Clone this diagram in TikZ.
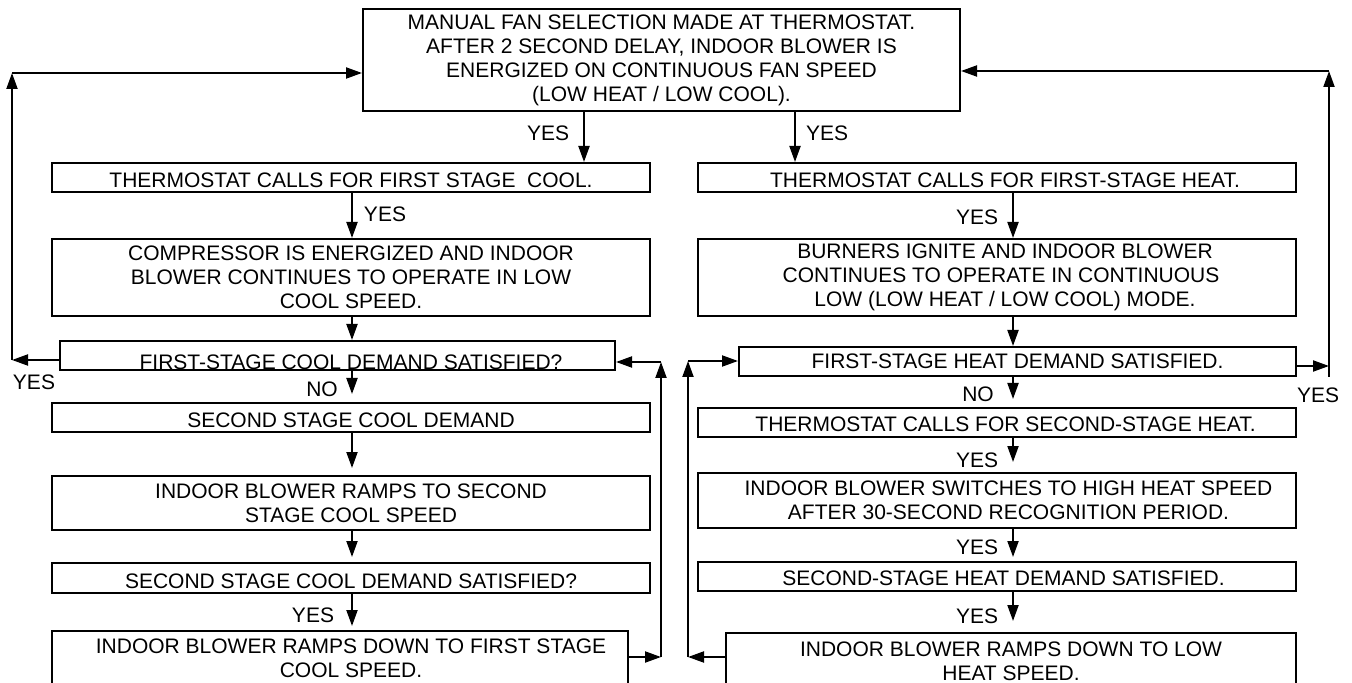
\documentclass[tikz,border=0pt]{standalone}
\usepackage{fontspec}
\setmainfont{Liberation Sans}
\usetikzlibrary{arrows.meta}
\newcommand{\sh}[2]{\hspace*{#1}#2\hspace*{-#1}}

\begin{document}
\begin{tikzpicture}[x=0.5pt, y=-0.5pt, >={Triangle[length=8pt,width=5.5pt]}, line width=1pt,
    font=\fontsize{10.5}{12}\selectfont,
    box/.style={draw, rectangle, inner xsep=3pt, inner ysep=0pt, align=center, minimum width=299pt},
    linebox/.style={box, minimum height=14.5pt, text height=10.5pt, text depth=0pt},
    lbl/.style={inner sep=0pt, text height=7.5pt, text depth=0pt}]
    \useasboundingbox (0,0) rectangle (1352,683);
    \clip (0,0) rectangle (1352,683);
    % caja superior
    \node[box, minimum width=298.5pt, minimum height=51pt] (top) at (661.5,60)
        {MANUAL FAN SELECTION MADE AT THERMOSTAT.\\AFTER 2 SECOND DELAY, INDOOR BLOWER IS\\ENERGIZED ON CONTINUOUS FAN SPEED\\(LOW HEAT / LOW COOL).};
    % columna frio
    \node[linebox] (c1) at (351,177.5) {THERMOSTAT CALLS FOR FIRST STAGE~ COOL.};
    \node[box, minimum height=38.5pt] (c2) at (351,277.5) {COMPRESSOR IS ENERGIZED AND INDOOR\\BLOWER CONTINUES TO OPERATE IN LOW\\COOL SPEED.};
    \node[linebox, minimum width=277.5pt, text height=14.5pt] (c3) at (337.5,355.5) {\sh{6.75pt}{FIRST-STAGE COOL DEMAND SATISFIED?}};
    \node[linebox] (c4) at (351,417.5) {SECOND STAGE COOL DEMAND};
    \node[box, minimum height=27pt] (c5) at (351,503) {INDOOR BLOWER RAMPS TO SECOND\\STAGE COOL SPEED};
    \node[linebox, minimum height=15pt] (c6) at (351,578) {SECOND STAGE COOL DEMAND SATISFIED?};
    \node[box, minimum width=288pt, minimum height=27.5pt] (c7) at (340,658.5) {\sh{5.5pt}{INDOOR BLOWER RAMPS DOWN TO FIRST STAGE}\\\sh{5.5pt}{COOL SPEED.}};
    % columna calor
    \node[linebox] (h1) at (997,177.5) {\sh{4pt}{THERMOSTAT CALLS FOR FIRST-STAGE HEAT.}};
    \node[box, minimum height=38.5pt] (h2) at (997,277.5) {\sh{4pt}{BURNERS IGNITE AND INDOOR BLOWER}\\\sh{4pt}{CONTINUES TO OPERATE IN CONTINUOUS}\\\sh{4pt}{LOW (LOW HEAT / LOW COOL) MODE.}};
    \node[linebox, minimum width=278.5pt, text height=7.5pt] (h3) at (1017.5,361.5) {FIRST-STAGE HEAT DEMAND SATISFIED.};
    \node[linebox, text height=9pt] (h4) at (997,422.5) {\sh{4.25pt}{THERMOSTAT CALLS FOR SECOND-STAGE HEAT.}};
    \node[box, minimum height=27.5pt] (h5) at (997,500.5) {\sh{5.75pt}{INDOOR BLOWER SWITCHES TO HIGH HEAT SPEED}\\\sh{5.75pt}{AFTER 30-SECOND RECOGNITION PERIOD.}};
    \node[linebox, text height=8.5pt] (h6) at (997,576.5) {\sh{3.25pt}{SECOND-STAGE HEAT DEMAND SATISFIED.}};
    \node[box, minimum width=285pt, minimum height=28pt] (h7) at (1011,661) {INDOOR BLOWER RAMPS DOWN TO LOW\\HEAT SPEED.};
    % ejes de las flechas
    \coordinate (ta) at (584,0);
    \coordinate (tb) at (795,0);
    \coordinate (lx) at (352,0);
    \coordinate (rx) at (1013,0);
    % flechas hacia abajo
    \draw[->] (top.south -| ta) -- (c1.north -| ta);
    \draw[->] (top.south -| tb) -- (h1.north -| tb);
    \draw[->] (c1.south -| lx) -- (c2.north -| lx);
    \draw[->] (c2.south -| lx) -- (c3.north -| lx);
    \draw[->, shorten >=4pt] (c3.south -| lx) -- (c4.north -| lx);
    \draw[->, shorten >=3.5pt] (c4.south -| lx) -- (c5.north -| lx);
    \draw[->, shorten >=2.5pt] (c5.south -| lx) -- (c6.north -| lx);
    \draw[->, shorten >=2pt] (c6.south -| lx) -- (c7.north -| lx);
    \draw[->] (h1.south -| rx) -- (h2.north -| rx);
    \draw[->] (h2.south -| rx) -- (h3.north -| rx);
    \draw[->, shorten >=4pt] (h3.south -| rx) -- (h4.north -| rx);
    \draw[->, shorten >=5pt] (h4.south -| rx) -- (h5.north -| rx);
    \draw[->, shorten >=2pt] (h5.south -| rx) -- (h6.north -| rx);
    \draw[->, shorten >=5.5pt] (h6.south -| rx) -- (h7.north -| rx);
    % etiquetas
    \node[lbl] (ya) at (548,133.5) {YES};
    \node[lbl] (yb) at (827,133.5) {YES};
    \node[lbl] (yc1) at (385,214.5) {YES};
    \node[lbl] (yh1) at (977,217) {YES};
    \node[lbl] (nc3) at (322,388.5) {NO};
    \node[lbl] (nh3) at (978,393.5) {NO};
    \node[lbl] (yh4) at (977,460) {YES};
    \node[lbl] (yh5) at (977,547) {YES};
    \node[lbl] (yc6) at (313,614.5) {YES};
    \node[lbl] (yh6) at (977,615.5) {YES};
    \node[lbl] (yl) at (34,382.5) {YES};
    \node[lbl] (yr) at (1318,395) {YES};
    % retorno izquierdo
    \coordinate (lb) at (12,360);
    \coordinate (lt) at (12,73);
    \draw[->] (c3.west |- lb) -- (lb);
    \draw[->] (lb) -- (lt);
    \draw[->] (lt) -- (lt -| top.west);
    % retorno derecho
    \coordinate (rb) at (1329,377);
    \coordinate (rm) at (1329,366);
    \coordinate (rt) at (1329,71);
    \draw[->] (h3.east |- rm) -- (rm);
    \draw[->] (rb) -- (rt);
    \draw[->] (rt) -- (rt -| top.east);
    % retornos centrales
    \coordinate (mlb) at (661,657);
    \coordinate (mlt) at (661,362);
    \draw[->] (c7.east |- mlb) -- (mlb);
    \draw[->] (mlb) -- (mlt);
    \draw[->] (mlt) -- (mlt -| c3.east);
    \coordinate (mrb) at (688,657);
    \coordinate (mrt) at (688,361);
    \draw[->] (h7.west |- mrb) -- (mrb);
    \draw[->] (mrb) -- (mrt);
    \draw[->] (mrt) -- (mrt -| h3.west);
\end{tikzpicture}
\end{document}
